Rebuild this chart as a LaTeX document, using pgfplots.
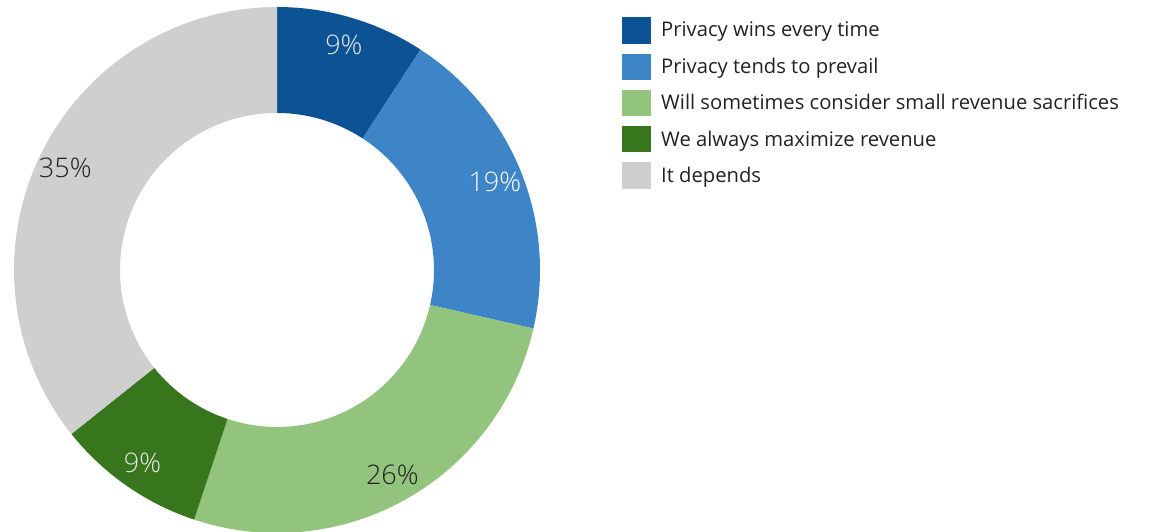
\documentclass[border=0pt]{standalone}
\usepackage{pgfplots}
\pgfplotsset{compat=1.18}
\usepackage{fontspec}
\setmainfont{Open Sans}
\IfFontExistsTF{Open Sans Light}{\newfontfamily\lightfont{Open Sans Light}}{\newfontfamily\lightfont{Open Sans}}
\definecolor{s1}{HTML}{0B5394}
\definecolor{s2}{HTML}{3D85C6}
\definecolor{s3}{HTML}{93C47D}
\definecolor{s4}{HTML}{38761D}
\definecolor{s5}{HTML}{CFCFCF}
\definecolor{txt}{HTML}{222222}
\definecolor{lw}{HTML}{E6E6E6}
\begin{document}
\begin{tikzpicture}
\begin{axis}[name=ax, width=1155pt, height=532pt, scale only axis,
  xmin=0, xmax=1155, ymin=0, ymax=532, hide axis, clip=true,
  legend image code/.code={\path (0pt,-13pt) rectangle (29pt,13pt);
     \fill[#1] (0pt,-13.3pt) rectangle (29pt,10pt);},
  legend style={at={(0.53853,0.9680)}, anchor=north west, draw=none, fill=none,
    inner sep=0pt, row sep=10pt, column sep=10pt,
    font=\fontsize{20.2}{23}\selectfont, text=txt,
    nodes={inner sep=0pt}},
  legend cell align=left]
\addlegendimage{fill=s1,draw=none}
\addlegendentry{Privacy wins every time}
\addlegendimage{fill=s2,draw=none}
\addlegendentry{Privacy tends to prevail}
\addlegendimage{fill=s3,draw=none}
\addlegendentry{Will sometimes consider small revenue sacrifices}
\addlegendimage{fill=s4,draw=none}
\addlegendentry{We always maximize revenue}
\addlegendimage{fill=s5,draw=none}
\addlegendentry{It depends}
\pgfplotsextra{%
  \coordinate (C) at (axis cs:277,262);
  \gdef\angstart{90}%
  \foreach \v/\c/\tc in {9/s1/lw,19/s2/white,26/s3/txt,9/s4/lw,35/s5/txt}{%
    \pgfmathsetmacro\angend{\angstart-\v*360/98}%
    \pgfmathsetmacro\angmid{(\angstart+\angend)/2}%
    \fill[\c] ([shift={(\angstart:263pt)}]C) arc[start angle=\angstart, end angle=\angend, radius=263pt]
      -- ([shift={(\angend:157pt)}]C) arc[start angle=\angend, end angle=\angstart, radius=157pt] -- cycle;
    \node[text=\tc, font=\lightfont\fontsize{27}{30}\selectfont, inner sep=0pt] at ([shift={(\angmid:235pt)}]C) {\v\%};
    \global\let\angstart\angend
  }%
}
\end{axis}
\pgfresetboundingbox
\path (ax.south west) rectangle (ax.north east);
\end{tikzpicture}
\end{document}
